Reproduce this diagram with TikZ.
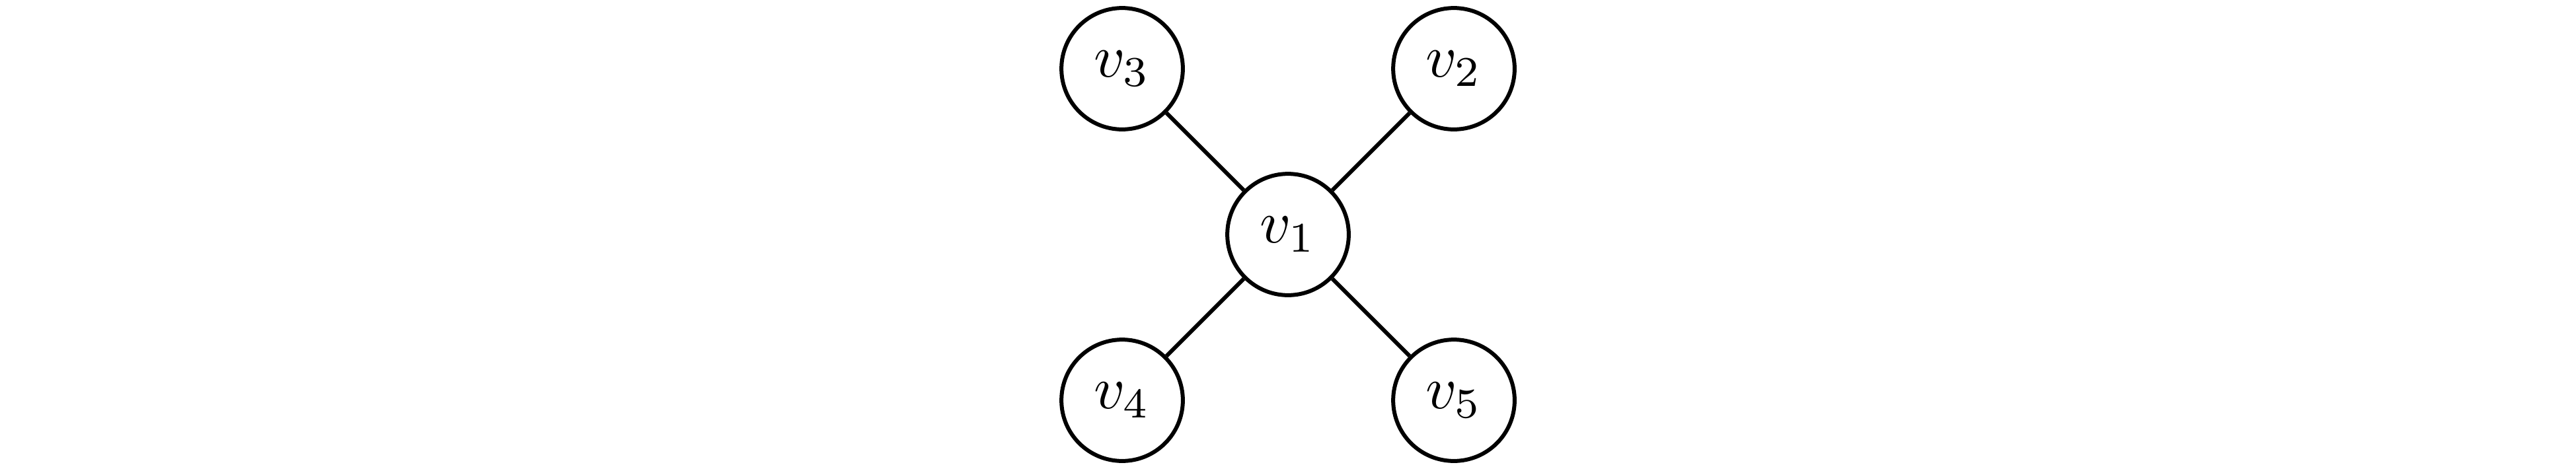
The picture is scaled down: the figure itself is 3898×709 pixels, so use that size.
\documentclass[tikz,border=0pt]{standalone}
\newcommand{\vlab}[1]{\scalebox{1.22}{$v_{#1}$}}
\begin{document}
\begin{tikzpicture}[x=0.13333pt, y=-0.13333pt,
  vertex/.style={circle, draw, line width=0.8pt, minimum size=24.5pt, inner sep=0pt},
  edge/.style={line width=0.8pt}]
\useasboundingbox (0,0) rectangle (3898,709);
\node[vertex] (v1) at (1949,355) {\vlab{1}};
\node[vertex] (v2) at (2200,104) {\vlab{2}};
\node[vertex] (v3) at (1698,104) {\vlab{3}};
\node[vertex] (v4) at (1698,606) {\vlab{4}};
\node[vertex] (v5) at (2200,606) {\vlab{5}};
\draw[edge] (v1) -- (v2);
\draw[edge] (v1) -- (v3);
\draw[edge] (v1) -- (v4);
\draw[edge] (v1) -- (v5);
\end{tikzpicture}
\end{document}
